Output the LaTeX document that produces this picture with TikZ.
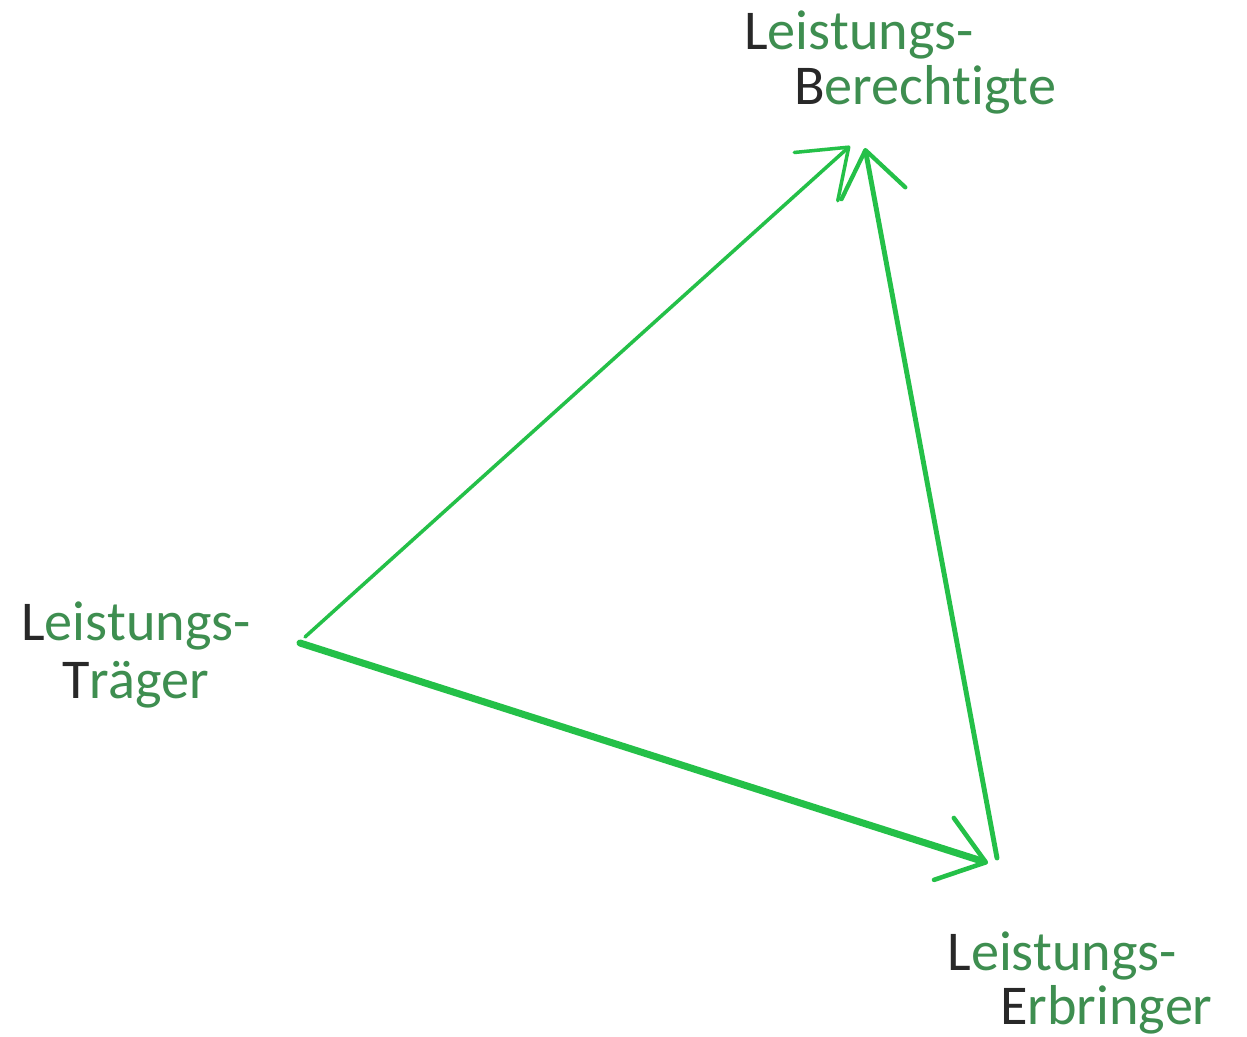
\documentclass[tikz,border=0pt]{standalone}
\usepackage{fontspec}
\setmainfont[Ligatures=NoCommon]{Carlito}
\usetikzlibrary{arrows.meta}
\definecolor{linegreen}{RGB}{36,192,72}
\definecolor{textgreen}{RGB}{62,142,80}
\definecolor{textdark}{RGB}{40,40,40}
\newcommand{\dk}[1]{\textcolor{textdark}{#1}}
\tikzset{
  lbl/.style={anchor=base west, inner sep=0pt, text=textgreen, font=\fontsize{32pt}{34pt}\selectfont},
  conn/.style={draw=linegreen, line cap=round, line join=round},
  barb/.style={-{Straight Barb[length=0.88cm, width=1.3cm, line width=#1, round]}}
}
\begin{document}
\begin{tikzpicture}[x=0.02cm, y=-0.02cm]
\useasboundingbox[fill=white] (0,0) rectangle (1247,1037);
% labels
\node[lbl] (b1) at (744,50) {\dk{L}eistungs-};
\node[lbl] (b2) at (794,105) {\dk{B}erechtigte};
\node[lbl] (t1) at (21,640) {\dk{L}eistungs-};
\node[lbl] (t2) at (62,698) {\dk{T}räger};
\node[lbl] (e1) at (947,970) {\dk{L}eistungs-};
\node[lbl] (e2) at (1000,1024) {\dk{E}rbringer};
% endpoints
\coordinate (TB) at (305,637);
\coordinate (BT) at (850,146);
\coordinate (EB) at (997,858);
\coordinate (BE) at (865,148);
\coordinate (TE) at (300,643);
\coordinate (ET) at (988,863);
% connectors
\draw[conn, line width=2pt, barb=2pt] (TB) -- (BT);
\draw[conn, line width=2.8pt, barb=2.4pt] (EB) -- (BE);
\draw[conn, line width=4pt, barb=2.6pt] (TE) -- (ET);
\end{tikzpicture}
\end{document}
